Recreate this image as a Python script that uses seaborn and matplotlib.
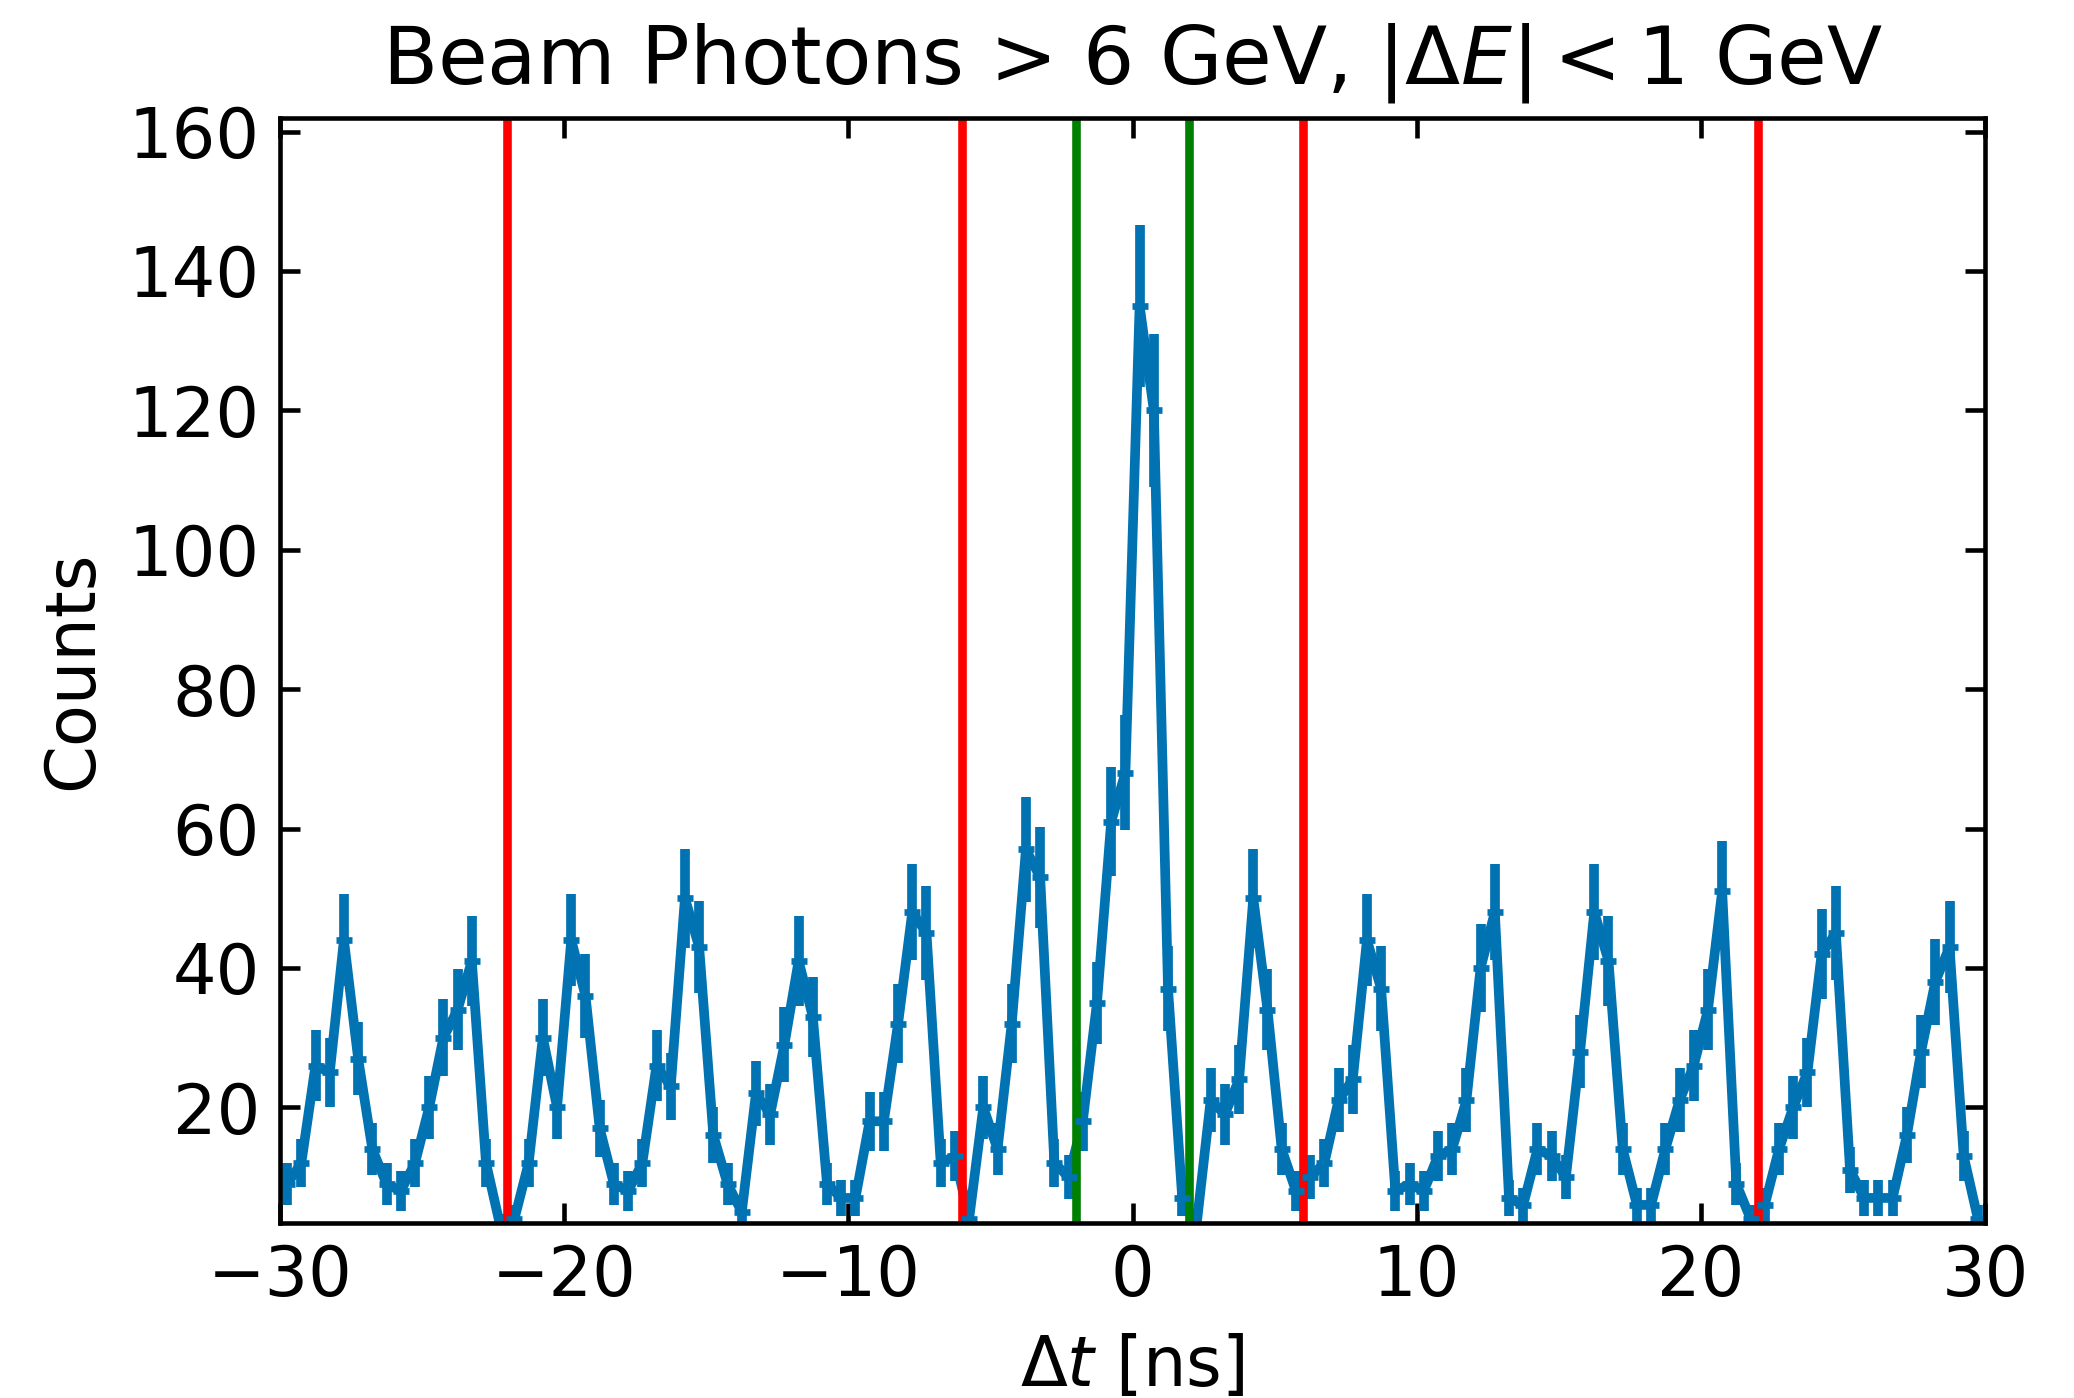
import numpy as np
import pandas as pd
import matplotlib
matplotlib.use("Agg")
import matplotlib.pyplot as plt
import seaborn as sns

# ---- data ----
bin_centers = np.arange(-29.75, 30.0, 0.5)   # 0.5 ns bins, 120 bins
counts = [
    9, 12, 26, 25, 44, 27, 14, 9, 8, 12,
    20, 30, 34, 41, 12, 3, 4, 12, 30, 20,
    44, 36, 17, 9, 8, 12, 26, 23, 50, 43,
    16, 9, 5, 22, 19, 29, 41, 33, 9, 7,
    7, 18, 18, 32, 48, 45, 12, 13, 4, 20,
    14, 32, 57, 53, 12, 10, 18, 35, 61, 68,
    135, 120, 37, 7, 3, 21, 19, 24, 50, 34,
    14, 8, 10, 12, 21, 24, 44, 37, 8, 9,
    8, 13, 14, 21, 40, 48, 7, 6, 14, 13,
    10, 28, 48, 41, 14, 6, 6, 14, 21, 26,
    34, 51, 9, 4, 6, 14, 20, 25, 42, 45,
    11, 7, 7, 7, 16, 28, 38, 43, 13, 4,
]
red_lines = [-22, -6, 6, 22]
green_lines = [-2, 2]
x_ticks = [-30, -20, -10, 0, 10, 20, 30]
y_ticks = [20, 40, 60, 80, 100, 120, 140, 160]

title = r"Beam Photons > 6 GeV, $|\Delta E| < 1$ GeV"
xlabel = r"$\Delta t$ [ns]"
ylabel = "Counts"

df = pd.DataFrame({"dt": bin_centers, "counts": counts})
df["err"] = np.sqrt(df["counts"])

# ---- style ----
sns.set_style("ticks")
s = 2.06  # scale factor
plt.rcParams["font.family"] = ["DejaVu Sans"]
plt.rcParams["mathtext.fontset"] = "dejavusans"
for key in ["text.color", "axes.labelcolor", "xtick.color", "ytick.color",
            "axes.edgecolor"]:
    plt.rcParams[key] = "black"

fig = plt.figure(figsize=(10.37, 6.99), dpi=200)
ax = fig.add_axes([0.135, 0.1254, 0.9571 - 0.135, 0.9154 - 0.1254])

blue = "#0173b2"
lw = 3.5
sns.lineplot(data=df, x="dt", y="counts", ax=ax, color=blue, linewidth=lw,
             estimator=None, errorbar=None)
ax.errorbar(df["dt"], df["counts"], yerr=df["err"], fmt="_", color=blue,
            ecolor=blue, elinewidth=lw, capsize=0, markersize=5.5,
            markeredgewidth=2.4)

for xv in red_lines:
    ax.axvline(xv, color="red", linewidth=3.1)
for xv in green_lines:
    ax.axvline(xv, color="green", linewidth=3.1)

ax.set_xlim(-30, 30)
ax.set_ylim(3.45, 161.9)
ax.set_xticks(x_ticks)
ax.set_yticks(y_ticks)

ax.tick_params(direction="in", top=True, right=True, length=3.5 * s,
               width=0.8 * s, pad=3.5 * s, labelsize=12 * s,
               color="black", labelcolor="black")
ax.minorticks_off()
for sp in ax.spines.values():
    sp.set_linewidth(0.8 * s)
    sp.set_color("black")
    sp.set_visible(True)

ax.set_xlabel(xlabel, fontsize=12 * s, labelpad=4 * s, color="black")
ax.set_ylabel(ylabel, fontsize=12 * s, labelpad=4 * s, color="black")
ax.set_title(title, fontsize=14.1 * s, pad=6 * s, color="black")

fig.savefig("out.png", dpi=200)
